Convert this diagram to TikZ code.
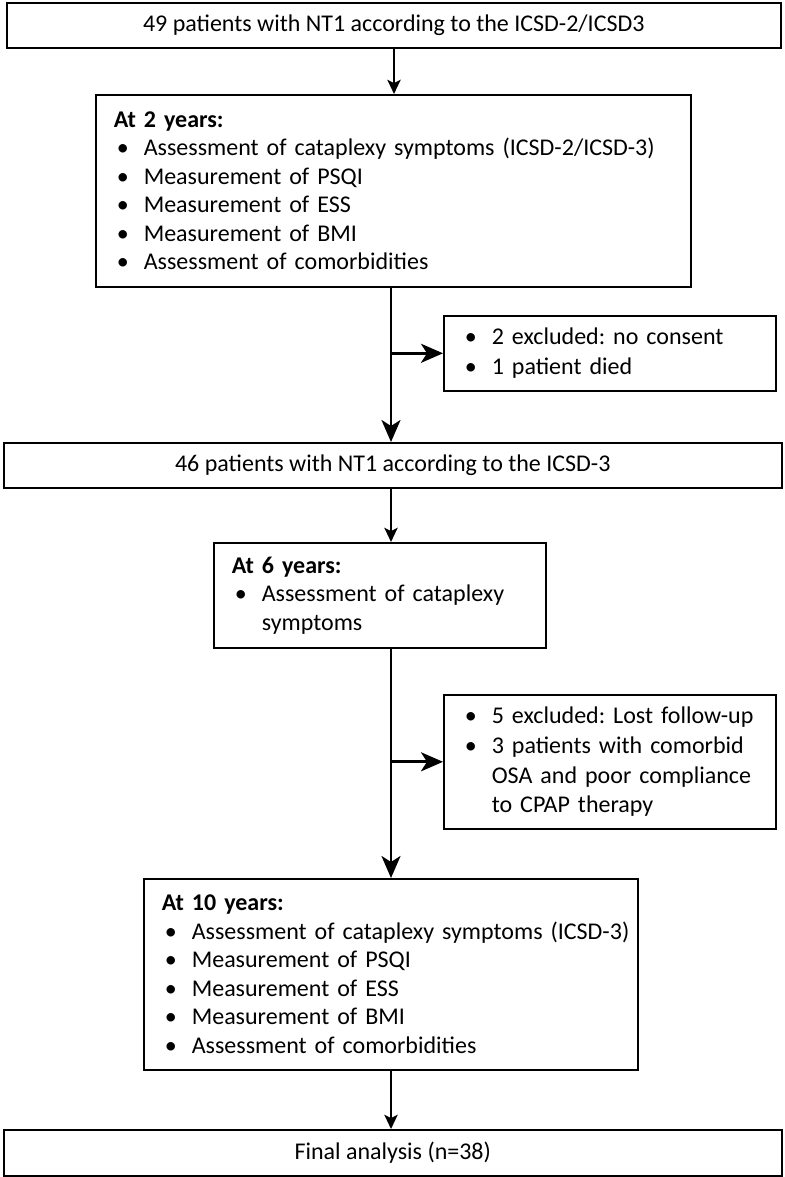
\documentclass[tikz,border=0pt]{standalone}
\usepackage{fontspec}
\setmainfont{Carlito}
\usetikzlibrary{arrows.meta,calc}
\newcommand\bl[1]{\mbox{\hspace*{3pt}\makebox[27pt][l]{\textbullet}#1}}
\newcommand\cont[1]{\mbox{\hspace*{30pt}#1}}
\begin{document}
\frenchspacing
\begin{tikzpicture}[x=1pt,y=1pt,
  box/.style={draw=black,line width=1.6pt,rectangle,anchor=north west,inner ysep=0pt,
    font=\frenchspacing\fontsize{24}{28.5}\selectfont},
  lbox/.style={box,align=left,inner xsep=18pt},
  cbox/.style={box,align=center},
  bigarr/.style={line width=2.8pt,-{Stealth[length=22pt,width=19pt,inset=6pt]}},
  smallarr/.style={line width=2.8pt,-{Stealth[length=14pt,width=13pt,inset=3pt]}}]
\useasboundingbox (0,0) rectangle (784,-1177);
\coordinate (sp) at (391,0);
\coordinate (sptop) at (394,0);

\node[cbox,minimum width=774pt,minimum height=45pt] (n1) at (6,-2)
  {49 patients with NT1 according to the ICSD-2/ICSD3};

\node[lbox,minimum width=595pt,minimum height=192pt,text width=559pt] (n2) at (95,-94)
  {\textbf{At 2 years:}\\
   \bl{Assessment of cataplexy symptoms (ICSD-2/ICSD-3)}\\
   \bl{Measurement of PSQI}\\
   \bl{Measurement of ESS}\\
   \bl{Measurement of BMI}\\
   \bl{Assessment of comorbidities}};

\node[lbox,minimum width=332pt,minimum height=75pt,text width=296pt,
  font=\frenchspacing\fontsize{24}{29.5}\selectfont] (ex1) at (443,-315)
  {\bl{2 excluded: no consent}\\
   \bl{1 patient died}};

\node[cbox,minimum width=778pt,minimum height=45pt] (n4) at (3,-442)
  {46 patients with NT1 according to the ICSD-3};

\node[lbox,minimum width=332pt,minimum height=105pt,text width=296pt] (n5) at (213,-542)
  {\textbf{At 6 years:}\\
   \bl{Assessment of cataplexy}\\
   \cont{symptoms}};

\node[lbox,minimum width=332pt,minimum height=134pt,text width=296pt,
  font=\frenchspacing\fontsize{24}{29.7}\selectfont] (ex2) at (443,-694)
  {\bl{5 excluded: Lost follow-up}\\
   \bl{3 patients with comorbid}\\
   \cont{OSA and poor compliance}\\
   \cont{to CPAP therapy}};

\node[lbox,minimum width=494pt,minimum height=191pt,text width=458pt] (n7) at (143,-878)
  {\textbf{At 10 years:}\\
   \bl{Assessment of cataplexy symptoms (ICSD-3)}\\
   \bl{Measurement of PSQI}\\
   \bl{Measurement of ESS}\\
   \bl{Measurement of BMI}\\
   \bl{Assessment of comorbidities}};

\node[cbox,minimum width=778pt,minimum height=46pt] (n8) at (3,-1129)
  {Final analysis (n=38)};

\draw[smallarr] (n1.south -| sptop) -- (n2.north -| sptop);
\draw[bigarr] (n2.south -| sp) -- (n4.north -| sp);
\draw[bigarr] (ex1.west -| sp) -- (ex1.west);
\draw[smallarr] (n4.south -| sp) -- (n5.north -| sp);
\draw[bigarr] (n5.south -| sp) -- (n7.north -| sp);
\draw[bigarr] (ex2.west -| sp) -- (ex2.west);
\draw[smallarr] (n7.south -| sp) -- (n8.north -| sp);
\end{tikzpicture}
\end{document}
